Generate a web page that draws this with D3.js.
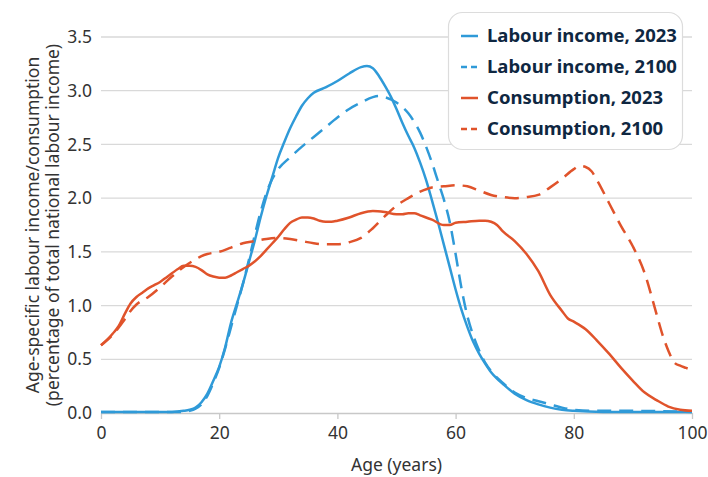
<!DOCTYPE html>
<html><head><meta charset="utf-8">
<script src="https://cdn.jsdelivr.net/npm/d3@7"></script>
<style>body{margin:0;background:#fff}svg{display:block;font-family:"Noto Sans","Open Sans",sans-serif}</style>
</head><body><svg id="c" width="708" height="477"></svg>
<script>
const labour2023 = [[0,0.01],[5,0.01],[10,0.01],[12,0.01],[14,0.02],[15,0.03],[16,0.05],[17,0.1],[18,0.18],[19,0.3],[20,0.43],[21,0.61],[22,0.84],[23,1.02],[24,1.2],[25,1.4],[26,1.6],[27,1.82],[28,2.02],[29,2.2],[30,2.38],[31,2.52],[32,2.65],[33,2.76],[34,2.86],[35,2.93],[36,2.98],[38,3.03],[40,3.09],[42,3.16],[44,3.22],[45,3.23],[46,3.21],[47,3.14],[48,3.05],[49,2.95],[50,2.83],[51,2.7],[52,2.58],[53,2.47],[54,2.33],[55,2.17],[56,1.98],[57,1.78],[58,1.57],[59,1.36],[60,1.15],[61,0.96],[62,0.8],[63,0.66],[64,0.55],[65,0.46],[66,0.38],[67,0.32],[68,0.27],[70,0.18],[72,0.12],[74,0.08],[76,0.05],[78,0.03],[80,0.02],[85,0.01],[100,0.01]];
const labour2100 = [[0,0.01],[5,0.01],[10,0.01],[14,0.01],[15,0.02],[16,0.04],[17,0.08],[18,0.16],[19,0.28],[20,0.42],[21,0.6],[22,0.8],[23,1.0],[24,1.2],[25,1.42],[26,1.65],[27,1.87],[28,2.05],[29,2.18],[30,2.27],[32,2.38],[34,2.48],[36,2.57],[38,2.66],[40,2.75],[42,2.83],[44,2.89],[46,2.94],[47,2.95],[48,2.94],[50,2.89],[52,2.79],[53,2.71],[54,2.61],[55,2.48],[56,2.33],[57,2.16],[58,1.99],[59,1.78],[60,1.48],[61,1.16],[62,0.9],[63,0.72],[64,0.58],[65,0.47],[66,0.39],[68,0.28],[70,0.19],[72,0.14],[74,0.11],[76,0.08],[78,0.05],[80,0.03],[84,0.02],[90,0.02],[100,0.01]];
const cons2023 = [[0,0.63],[1,0.68],[2,0.74],[3,0.81],[4,0.92],[5,1.02],[6,1.08],[7,1.12],[8,1.16],[9,1.19],[10,1.22],[11,1.26],[12,1.3],[13,1.34],[14,1.37],[15,1.37],[16,1.36],[17,1.33],[18,1.29],[19,1.27],[20,1.26],[21,1.26],[22,1.28],[23,1.31],[24,1.34],[25,1.37],[26,1.41],[27,1.46],[28,1.52],[29,1.58],[30,1.64],[31,1.71],[32,1.77],[33,1.8],[34,1.82],[35,1.82],[36,1.81],[37,1.79],[38,1.78],[39,1.78],[40,1.79],[42,1.82],[44,1.86],[46,1.88],[48,1.87],[50,1.85],[51,1.85],[52,1.86],[53,1.86],[54,1.84],[56,1.8],[58,1.75],[59,1.75],[60,1.77],[62,1.78],[64,1.79],[65,1.79],[66,1.78],[67,1.75],[68,1.69],[70,1.6],[72,1.48],[74,1.32],[76,1.1],[78,0.95],[79,0.88],[80,0.85],[82,0.78],[84,0.67],[86,0.55],[88,0.42],[90,0.3],[92,0.19],[94,0.12],[96,0.06],[98,0.03],[100,0.02]];
const cons2100 = [[0,0.63],[2,0.73],[4,0.87],[5,0.95],[6,1.01],[8,1.08],[10,1.17],[12,1.27],[14,1.36],[16,1.43],[17,1.46],[18,1.48],[20,1.5],[22,1.54],[24,1.58],[26,1.6],[28,1.62],[30,1.63],[32,1.62],[34,1.6],[36,1.58],[38,1.57],[40,1.57],[42,1.59],[44,1.63],[46,1.72],[48,1.83],[50,1.93],[52,2.0],[54,2.06],[56,2.1],[58,2.11],[60,2.12],[62,2.11],[64,2.07],[66,2.03],[68,2.01],[70,2.0],[72,2.01],[74,2.03],[76,2.1],[78,2.18],[80,2.27],[81,2.3],[82,2.29],[83,2.25],[84,2.16],[86,1.95],[88,1.74],[90,1.55],[92,1.3],[94,0.92],[95,0.73],[96,0.58],[97,0.47],[98,0.44],[99,0.42],[100,0.4]];
const xTicks = [0,20,40,60,80,100];
const yTicks = [0,0.5,1,1.5,2,2.5,3,3.5];
const seriesNames = ["Labour income, 2023","Labour income, 2100","Consumption, 2023","Consumption, 2100"];

const blue = "#2f9ad8", red = "#e0532b";
const series = [
  {name:seriesNames[0], data:labour2023, color:blue, dash:null},
  {name:seriesNames[1], data:labour2100, color:blue, dash:"14,8"},
  {name:seriesNames[2], data:cons2023, color:red, dash:null},
  {name:seriesNames[3], data:cons2100, color:red, dash:"14,8"}
];
const svg = d3.select("#c");
const m = {l:101, r:16, t:37, b:64};
const W = 708, H = 477;
const FS = 17.5;
const x = d3.scaleLinear().domain([0,100]).range([m.l, W-m.r]);
const y = d3.scaleLinear().domain([0,3.5]).range([H-m.b, m.t]);

// gridlines
svg.append("g").selectAll("line").data(yTicks.filter(d=>d>0)).join("line")
  .attr("x1", m.l).attr("x2", W-m.r).attr("y1", d=>y(d)).attr("y2", d=>y(d))
  .attr("stroke","#d9d9d9").attr("stroke-width",1.3);

// y tick labels
svg.append("g").selectAll("text").data(yTicks).join("text")
  .attr("x", m.l-9).attr("y", d=>y(d)).attr("dy","0.35em").attr("text-anchor","end")
  .attr("font-size",FS).attr("fill","#333").text(d=>d.toFixed(1));

// x axis
const xa = svg.append("g").attr("transform",`translate(0,${y(0)})`)
  .call(d3.axisBottom(x).tickValues(xTicks).tickSize(6).tickSizeOuter(0).tickPadding(8));
xa.select(".domain").attr("stroke","#c8c8c8").attr("stroke-width",1.3);
xa.selectAll(".tick line").attr("stroke","#c8c8c8").attr("stroke-width",1.3);
xa.selectAll(".tick text").attr("font-size",FS).attr("fill","#333").attr("font-family","Noto Sans, sans-serif");

// lines
const line = d3.line().x(d=>x(d[0])).y(d=>y(d[1])).curve(d3.curveMonotoneX);
svg.append("g").selectAll("path").data(series).join("path")
  .attr("d", d=>line(d.data)).attr("fill","none").attr("stroke", d=>d.color)
  .attr("stroke-width",2.5).attr("stroke-dasharray", d=>d.dash).attr("stroke-linejoin","round");

// axis titles
svg.append("text").attr("x", x(50)).attr("y", 471).attr("text-anchor","middle")
  .attr("font-size",FS).attr("fill","#333").text("Age (years)");
const yt = svg.append("text").attr("transform",`translate(0,${(m.t+H-m.b)/2}) rotate(-90)`)
  .attr("text-anchor","middle").attr("font-size",FS).attr("fill","#333");
yt.append("tspan").attr("x",0).attr("y",39).text("Age-specific labour income/consumption");
yt.append("tspan").attr("x",0).attr("y",59).text("(percentage of total national labour income)");

// legend
const lg = svg.append("g");
lg.append("rect").attr("x",448.5).attr("y",12.5).attr("width",234).attr("height",137).attr("rx",14)
  .attr("fill","#fff").attr("stroke","#dcdcdc").attr("stroke-width",1.2);
const items = lg.selectAll("g").data(series).join("g")
  .attr("transform",(d,i)=>`translate(0,${36+i*31})`);
items.append("line").attr("x1",461).attr("x2",478).attr("y1",0).attr("y2",0)
  .attr("stroke",d=>d.color).attr("stroke-width",2.5).attr("stroke-dasharray",d=>d.dash?"6,4":null);
items.append("text").attr("x",487).attr("y",0).attr("dy","0.35em")
  .attr("font-size",18.5).attr("font-weight","bold").attr("fill","#0f2741").text(d=>d.name);
</script></body></html>
